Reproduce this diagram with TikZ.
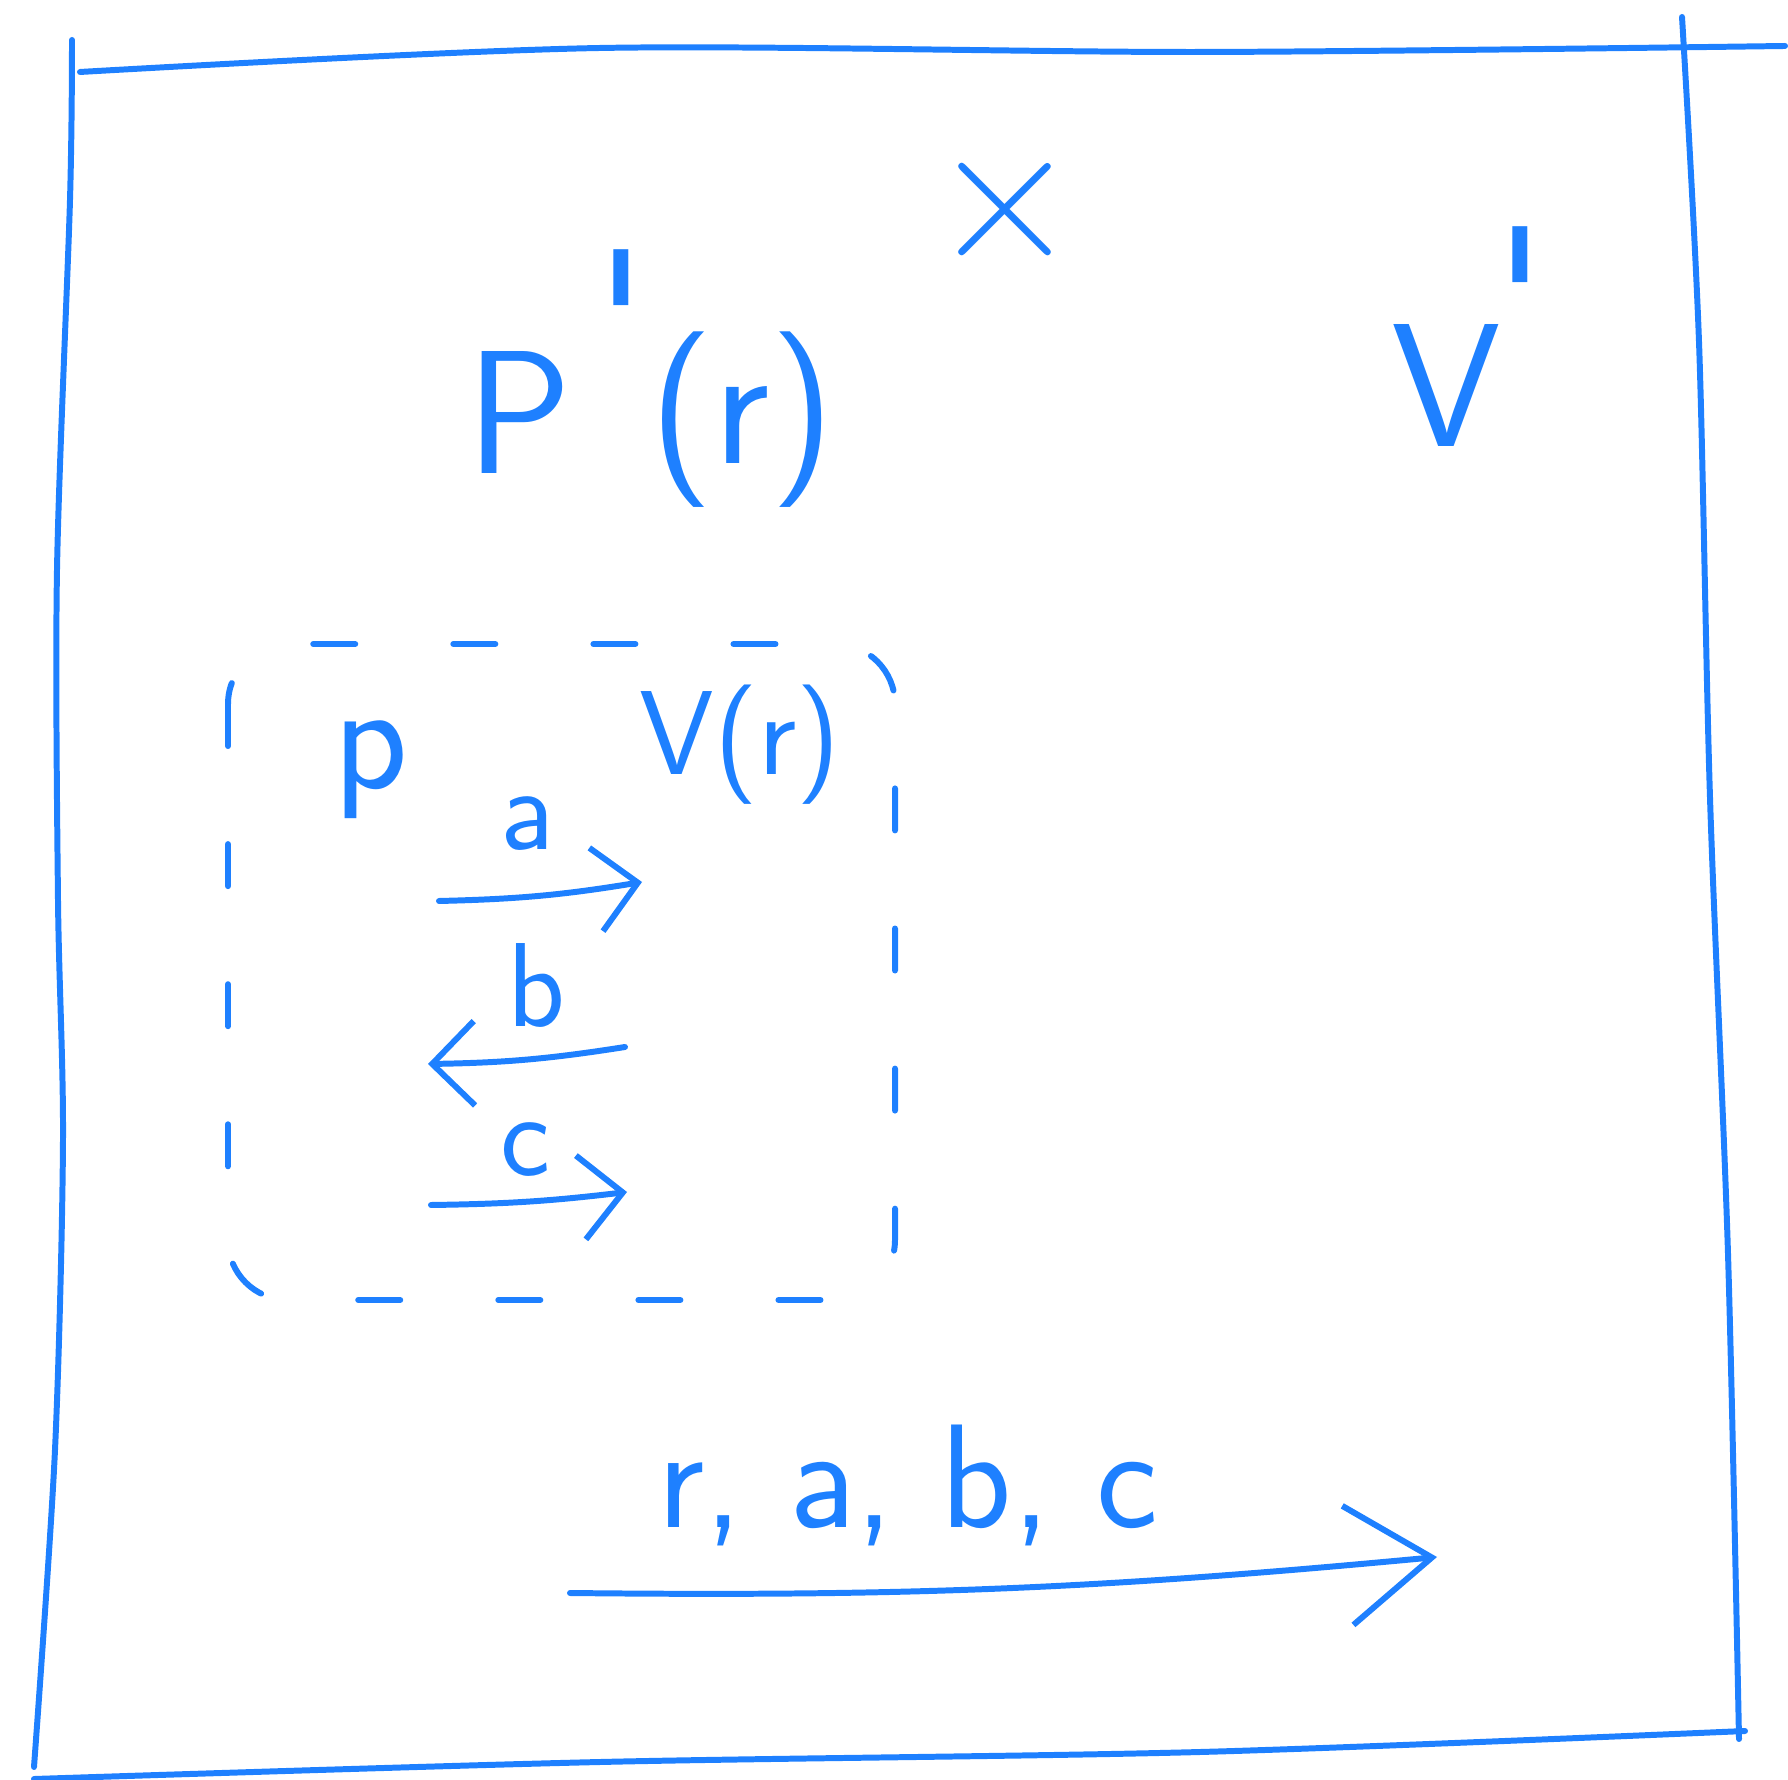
\documentclass[tikz,border=0pt]{standalone}
\usetikzlibrary{arrows.meta}
\definecolor{pen}{RGB}{30,128,255}
\begin{document}
\begin{tikzpicture}[x=0.01cm,y=-0.01cm,
  ink/.style={draw=pen,line width=1.7pt,line cap=round,line join=round},
  lbl/.style={text=pen,inner sep=0pt,font=\sffamily},
  big/.style={lbl,font=\sffamily\fontsize{50}{50}\selectfont},
  mid/.style={lbl,font=\sffamily\fontsize{34}{34}\selectfont},
  prm/.style={lbl,font=\sffamily\fontsize{56}{56}\selectfont},
  dbox/.style={ink,dash pattern=on 0.42cm off 0.98cm,rounded corners=0.6cm},
  tip/.style={-{Straight Barb[length=12pt,width=24pt]}},
  bigtip/.style={-{Straight Barb[length=24pt,width=34pt]}}]
\useasboundingbox (0,0) rectangle (1788,1780);
% outer frame
\draw[ink] plot[smooth] coordinates {(72,40) (70,200) (57,570) (58,900) (63,1140) (55,1450) (34,1767)};
\draw[ink] plot[smooth] coordinates {(80,72) (600,48) (1200,52) (1785,46)};
\draw[ink] plot[smooth] coordinates {(1682,17) (1699,342) (1710,798) (1728,1254) (1739,1739)};
\draw[ink] plot[smooth] coordinates {(34,1779) (600,1762) (1200,1752) (1745,1731)};
% top formula
\node[big] (P) at (519,412) {P};
\node[prm] (Pprime) at (621,320) {\textquotesingle};
\node[big] (Pr) at (742,420) {(r)};
\node[lbl,font=\sffamily\fontsize{58}{58}\selectfont] (times) at (1005,211) {\texttimes};
\node[big] (V) at (1446,385) {V};
\node[prm] (Vprime) at (1520,297) {\textquotesingle};
% dashed box
\draw[dbox] (228,644) rectangle (895,1300);
\node[big,font=\sffamily\fontsize{44}{44}\selectfont] (p) at (371,770) {p};
\node[mid] (Vr) at (740,745) {V(r)};
% arrow a
\coordinate (a1) at (439,901);
\coordinate (a2) at (642,882);
\draw[ink,tip] (a1) to[bend right=4] (a2);
\node[mid] (la) at (527,824) {a};
% arrow b
\coordinate (b1) at (625,1047);
\coordinate (b2) at (428,1064);
\draw[ink,tip] (b1) to[bend left=4] (b2);
\node[mid] (lb) at (536,985) {b};
% arrow c
\coordinate (c1) at (431,1205);
\coordinate (c2) at (627,1192);
\draw[ink,tip] (c1) to[bend right=3] (c2);
\node[mid] (lc) at (525,1150) {c};
% bottom
\node[big,font=\sffamily\fontsize{42}{42}\selectfont] (rabc) at (908,1485) {r, a, b, c};
\coordinate (s1) at (570,1593);
\coordinate (s2) at (1437,1557);
\draw[ink,bigtip] (s1) to[bend right=3] (s2);
\end{tikzpicture}
\end{document}
